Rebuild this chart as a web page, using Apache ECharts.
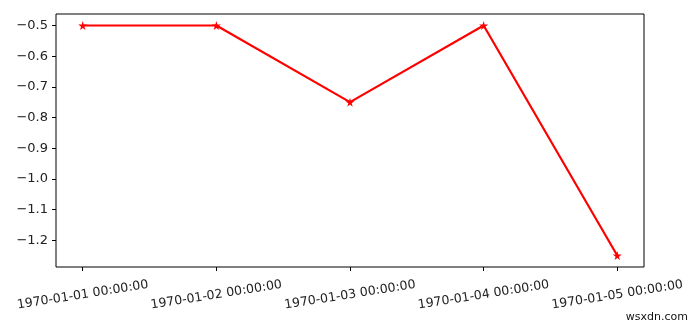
<!DOCTYPE html>
<html>
<head>
<meta charset="utf-8">
<script src="https://cdn.jsdelivr.net/npm/echarts@6/dist/echarts.min.js"></script>
<style>html,body{margin:0;padding:0;background:#fff;}#c{width:700px;height:327px;}</style>
</head>
<body>
<div id="c"></div>
<script>
const categories = ['1970-01-01 00:00:00','1970-01-02 00:00:00','1970-01-03 00:00:00','1970-01-04 00:00:00','1970-01-05 00:00:00'];
const values = [-0.5, -0.5, -0.75, -0.5, -1.25];
const yTicks = [-1.2, -1.1, -1.0, -0.9, -0.8, -0.7, -0.6, -0.5];
const xTicks = [0, 1, 2, 3, 4];

const chart = echarts.init(document.getElementById('c'), null, {renderer: 'canvas'});
const font = 'DejaVu Sans';
chart.setOption({
  animation: false,
  backgroundColor: '#ffffff',
  grid: {left: 56, right: 56, top: 14, bottom: 60, show: true, borderColor: '#000', borderWidth: 1, backgroundColor: 'transparent'},
  xAxis: {
    type: 'value', min: -0.2, max: 4.2,
    splitLine: {show: false},
    axisLine: {show: false, onZero: false},
    axisTick: {show: true, customValues: xTicks, length: 4, lineStyle: {color: '#000'}},
    axisLabel: {
      customValues: xTicks, rotate: 9, align: 'center', verticalAlign: 'middle', margin: 28,
      fontFamily: font, fontSize: 12.5, color: '#222',
      formatter: v => categories[Math.round(Number(v))]
    }
  },
  yAxis: {
    type: 'value', min: -1.2875, max: -0.4625,
    splitLine: {show: false},
    axisLine: {show: false, onZero: false},
    axisTick: {show: true, customValues: yTicks, length: 4, lineStyle: {color: '#000'}},
    axisLabel: {
      customValues: yTicks, margin: 8, fontFamily: font, fontSize: 13, color: '#222',
      formatter: v => Number(v).toFixed(1).replace('-', '\u2212')
    }
  },
  series: [{
    type: 'line',
    data: values.map((v, i) => [i, v]),
    lineStyle: {color: '#ff0000', width: 2.2},
    itemStyle: {color: '#ff0000'},
    symbol: 'path://M50,0 L61,35 L98,35 L68,57 L79,91 L50,70 L21,91 L32,57 L2,35 L39,35 Z',
    symbolSize: 9,
    showSymbol: true
  }],
  graphic: [{
    type: 'text', right: 12, bottom: 4,
    style: {text: 'wsxdn.com', font: '11px "DejaVu Sans"', fill: '#111'}
  }]
});
</script>
</body>
</html>
